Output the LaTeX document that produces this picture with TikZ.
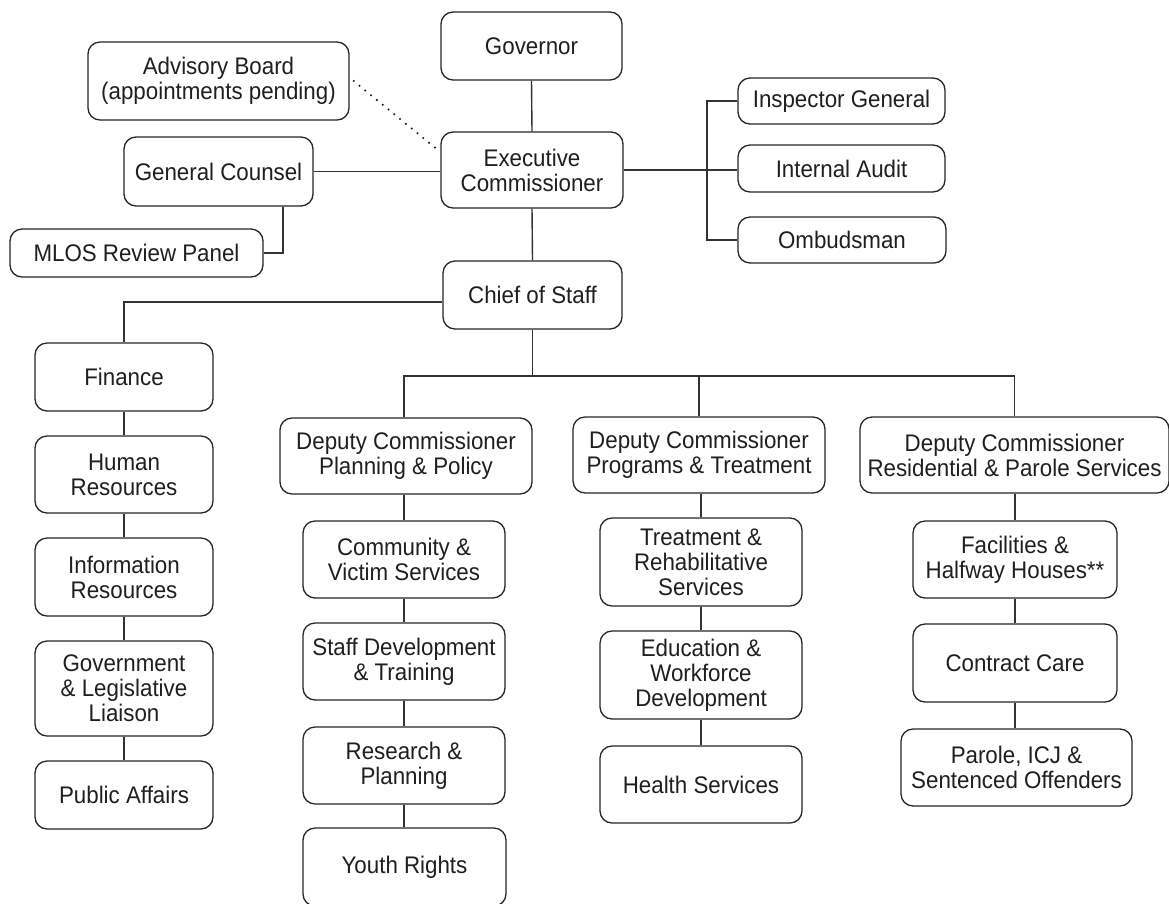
\documentclass[tikz,border=0pt]{standalone}
\usepackage{fontspec}
\setmainfont{Liberation Sans}[FakeStretch=0.93]
\begin{document}
\begin{tikzpicture}[x=1pt,y=-1pt,
  box/.style={draw=black!85, line width=1.3pt, rounded corners=12pt, fill=white,
    inner sep=0pt, align=center, font=\fontsize{24}{25}\selectfont, text=black!88},
  conn/.style={draw=black!80, line width=1.4pt},
  dotline/.style={draw=black!90, line width=2.3pt, line cap=round, dash pattern=on 0pt off 7.5pt}]
\useasboundingbox (0,0) rectangle (1169,903);

% top
\node[box, minimum width=181pt, minimum height=68pt] (gov) at (531.5,46) {Governor};
\node[box, minimum width=182pt, minimum height=76pt] (exec) at (532,170) {Executive\\Commissioner};
\node[box, minimum width=179pt, minimum height=68pt] (chief) at (532.5,295) {Chief of Staff};
\node[box, minimum width=261pt, minimum height=78pt] (adv) at (218.5,81) {Advisory Board\\(appointments pending)};
\node[box, minimum width=189pt, minimum height=69pt] (gc) at (218.5,171.5) {General Counsel};
\node[box, minimum width=253pt, minimum height=48pt] (mlos) at (136.5,253) {MLOS Review Panel};
\node[box, minimum width=207pt, minimum height=46pt] (ig) at (841.5,101) {Inspector General};
\node[box, minimum width=207pt, minimum height=47pt] (ia) at (841.5,168.5) {Internal Audit};
\node[box, minimum width=208pt, minimum height=46pt] (omb) at (842,240) {Ombudsman};

% left column
\node[box, minimum width=178pt, minimum height=68pt] (fin) at (124,377) {Finance};
\node[box, minimum width=178pt, minimum height=77pt] (hr) at (124,474.5) {Human\\Resources};
\node[box, minimum width=178pt, minimum height=78pt] (ir) at (124,577) {Information\\Resources};
\node[box, minimum width=178pt, minimum height=95pt] (gll) at (124,688.5) {Government\\\& Legislative\\Liaison};
\node[box, minimum width=178pt, minimum height=68pt] (pa) at (124,795) {Public Affairs};

% planning & policy
\node[box, minimum width=252pt, minimum height=76pt] (dpp) at (406,456) {Deputy Commissioner\\Planning \& Policy};
\node[box, minimum width=202pt, minimum height=77pt] (cvs) at (404,559.5) {Community \&\\Victim Services};
\node[box, minimum width=202pt, minimum height=77pt] (sdt) at (404,661.5) {Staff Development\\\& Training};
\node[box, minimum width=202pt, minimum height=77pt] (rp) at (404,765.5) {Research \&\\Planning};
\node[box, minimum width=203pt, minimum height=78pt] (yr) at (404.5,867) {Youth Rights};

% programs & treatment
\node[box, minimum width=252pt, minimum height=76pt] (dprog) at (699,455) {Deputy Commissioner\\Programs \& Treatment};
\node[box, minimum width=202pt, minimum height=88pt] (trs) at (701,562) {Treatment \&\\Rehabilitative\\Services};
\node[box, minimum width=202pt, minimum height=88pt] (ewd) at (701,675) {Education \&\\Workforce\\Development};
\node[box, minimum width=202pt, minimum height=77pt] (hs) at (701,784.5) {Health Services};

% residential & parole
\node[box, minimum width=309pt, minimum height=76pt] (dres) at (1014.5,455) {Deputy Commissioner\\Residential \& Parole Services};
\node[box, minimum width=204pt, minimum height=77pt] (fac) at (1015,559.5) {Facilities \&\\Halfway Houses**};
\node[box, minimum width=204pt, minimum height=78pt] (cc) at (1015,663) {Contract Care};
\node[box, minimum width=231pt, minimum height=77pt] (poc) at (1016.5,767.5) {Parole, ICJ \&\\Sentenced Offenders};

% connectors
\draw[conn] (gov.south) -- (exec.north);
\draw[conn] (exec.south) -- (chief.north);
\draw[dotline] ([xshift=4pt]adv.east) -- ([yshift=18pt]exec.west);
\draw[conn] (gc.east) -- (gc.east -| exec.west);
\draw[conn] ([xshift=64.5pt]gc.south) |- (mlos.east);
\draw[conn] (exec.east) -- (exec.east -| ia.west);
\coordinate (brk) at (707,0);
\draw[conn] (ig.west) -| (brk |- omb.west) -- (omb.west);
\draw[conn] ([yshift=-7pt]chief.west) -| (fin.north);
\draw[conn] (fin.south) -- (hr.north);
\draw[conn] (hr.south) -- (ir.north);
\draw[conn] (ir.south) -- (gll.north);
\draw[conn] (gll.south) -- (pa.north);
\coordinate (bus) at (531,376);
\draw[conn] (chief.south) -- (chief.south |- bus);
\draw[conn] ([xshift=-2pt]dpp.north) |- (bus) -| (dres.north);
\draw[conn] (dprog.north) -- (dprog.north |- bus);
\draw[conn] ([xshift=-2pt]dpp.south) -- (cvs.north);
\draw[conn] (cvs.south) -- (sdt.north);
\draw[conn] (sdt.south) -- (rp.north);
\draw[conn] (rp.south) -- (rp.south |- yr.north);
\draw[conn] (dprog.south -| trs.north) -- (trs.north);
\draw[conn] (trs.south) -- (ewd.north);
\draw[conn] (ewd.south) -- (hs.north);
\draw[conn] (dres.south -| fac.north) -- (fac.north);
\draw[conn] (fac.south) -- (cc.north);
\draw[conn] (cc.south) -- (cc.south |- poc.north);
\end{tikzpicture}
\end{document}
